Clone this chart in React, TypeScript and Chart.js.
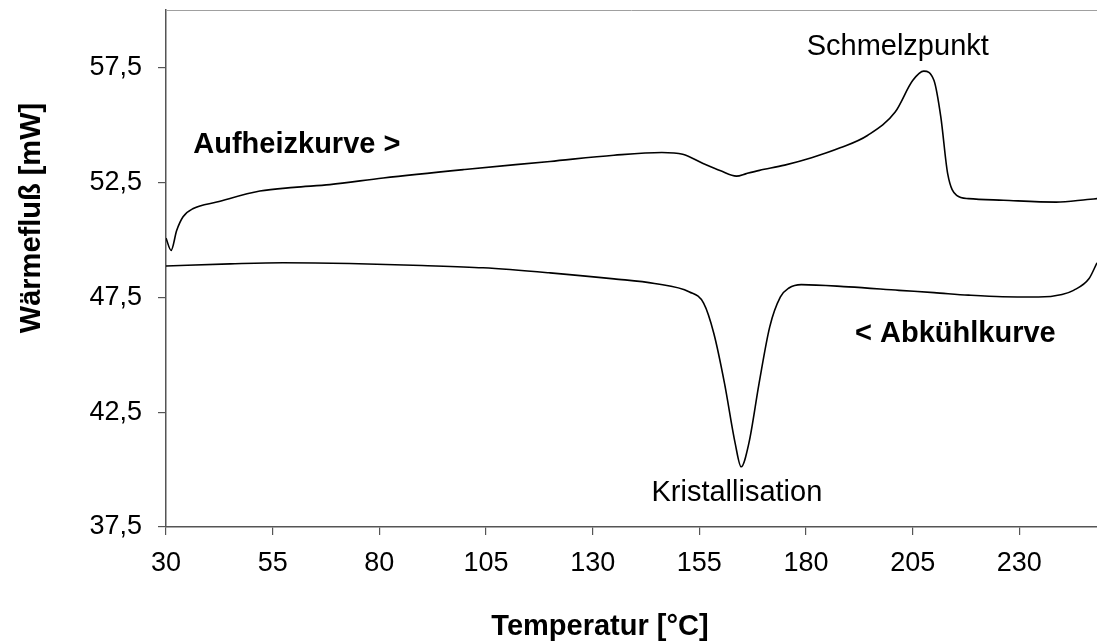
import React, { useEffect, useRef } from "react";
import { Chart, registerables } from "chart.js";

Chart.register(...registerables);

// Heating curve (Aufheizkurve): temperature [°C] and heat flow [mW]
const heatTemp = [30, 31.2, 32.5, 34.0, 36.4, 41.9, 52.0, 60, 68.4, 80.9, 100, 120, 135, 146.2, 151.1, 156, 160, 163.7, 166, 169.1, 175, 181.3, 188, 194.4, 200.9, 205, 207.6, 210, 211.6, 213.2, 215.3, 218.1, 226.3, 238.6, 245.9, 248.2];
const heatFlow = [50.07, 49.54, 50.4, 51.0, 51.36, 51.64, 52.12, 52.28, 52.4, 52.69, 53.06, 53.41, 53.68, 53.8, 53.72, 53.31, 53.0, 52.77, 52.88, 53.02, 53.25, 53.57, 54.0, 54.54, 55.56, 56.93, 57.34, 56.93, 55.34, 52.88, 51.93, 51.79, 51.72, 51.64, 51.75, 51.79];

// Cooling curve (Abkühlkurve)
const coolTemp = [30, 45, 57.4, 73, 90, 104.3, 120, 135, 144.5, 152.7, 156, 158.4, 160.9, 163.4, 164.8, 166.6, 169, 171.5, 174, 176, 178.9, 190, 201.8, 210, 218.1, 226, 234.5, 240, 242.7, 246.3, 248.2];
const coolFlow = [48.86, 48.95, 49.0, 48.97, 48.88, 48.78, 48.56, 48.3, 48.1, 47.73, 47.24, 45.92, 43.75, 41.14, 40.12, 41.14, 43.75, 46.21, 47.51, 47.9, 48.05, 47.95, 47.8, 47.7, 47.59, 47.52, 47.51, 47.62, 47.8, 48.3, 49.0];

// Axis ticks
const xTicks = [30, 55, 80, 105, 130, 155, 180, 205, 230];
const yTicks = [37.5, 42.5, 47.5, 52.5, 57.5];

// Text labels
const xTitle = "Temperatur [°C]";
const yTitle = "Wärmefluß [mW]";
const noteTexts = ["Aufheizkurve >", "Schmelzpunkt", "< Abkühlkurve", "Kristallisation"];
const noteTemp = [36.4, 201.5, 215.0, 163.8];
const noteFlow = [53.76, 58.05, 45.54, 38.64];
const noteBold = [true, false, true, false];
const noteAlign: CanvasTextAlign[] = ["left", "center", "center", "center"];

const FONT = '"Liberation Sans", Arial, Helvetica, sans-serif';

const textPlugin = {
  id: "dscTexts",
  afterDraw(chart: any) {
    const { ctx, chartArea, scales } = chart;
    ctx.save();
    // top frame line
    ctx.strokeStyle = "#a0a0a0";
    ctx.lineWidth = 1;
    ctx.beginPath();
    ctx.moveTo(chartArea.left, chartArea.top + 0.5);
    ctx.lineTo(chartArea.right, chartArea.top + 0.5);
    ctx.stroke();

    ctx.fillStyle = "#000";
    ctx.textBaseline = "alphabetic";
    noteTexts.forEach((t, i) => {
      ctx.font = `${noteBold[i] ? "bold " : ""}29px ${FONT}`;
      ctx.textAlign = noteAlign[i];
      ctx.fillText(t, scales.x.getPixelForValue(noteTemp[i]), scales.y.getPixelForValue(noteFlow[i]));
    });

    // axis titles
    ctx.font = `bold 29px ${FONT}`;
    ctx.textAlign = "center";
    ctx.textBaseline = "alphabetic";
    ctx.fillText(xTitle, 600, 635);

    ctx.save();
    ctx.translate(40, 218);
    ctx.rotate(-Math.PI / 2);
    ctx.textBaseline = "alphabetic";
    ctx.fillText(yTitle, 0, 0);
    ctx.restore();

    ctx.restore();
  },
};

export default function App() {
  const ref = useRef<HTMLCanvasElement | null>(null);

  useEffect(() => {
    if (!ref.current) return;
    const heat = heatTemp.map((t, i) => ({ x: t, y: heatFlow[i] }));
    const cool = coolTemp.map((t, i) => ({ x: t, y: coolFlow[i] }));
    const chart = new Chart(ref.current, {
      type: "line",
      data: {
        datasets: [
          {
            label: "Aufheizkurve",
            data: heat,
            borderColor: "#000",
            borderWidth: 1.6,
            pointRadius: 0,
            cubicInterpolationMode: "monotone",
            fill: false,
          },
          {
            label: "Abkühlkurve",
            data: cool,
            borderColor: "#000",
            borderWidth: 1.6,
            pointRadius: 0,
            cubicInterpolationMode: "monotone",
            fill: false,
          },
        ],
      },
      options: {
        responsive: false,
        animation: false,
        devicePixelRatio: 1,
        layout: { padding: { top: 10, right: 0, bottom: 0, left: 0 } },
        plugins: {
          legend: { display: false },
          tooltip: { enabled: false },
          title: { display: false },
        },
        scales: {
          x: {
            type: "linear",
            min: 30,
            max: 248.2,
            afterBuildTicks: (s: any) => {
              s.ticks = xTicks.map((v) => ({ value: v }));
            },
            afterFit: (s: any) => {
              s.height = 117;
              s.paddingLeft = 0;
              s.paddingRight = 0;
            },
            grid: {
              display: true,
              drawOnChartArea: false,
              drawTicks: true,
              tickLength: 8,
              color: "#555",
              lineWidth: 1.2,
            },
            border: { display: true, color: "#555", width: 1.5 },
            ticks: {
              color: "#000",
              padding: 12,
              maxRotation: 0,
              autoSkip: false,
              font: { family: FONT, size: 27 },
              callback: (v: any) => String(v),
            },
          },
          y: {
            type: "linear",
            min: 37.5,
            max: 60,
            afterBuildTicks: (s: any) => {
              s.ticks = yTicks.map((v) => ({ value: v }));
            },
            afterFit: (s: any) => {
              s.width = 166;
              s.paddingTop = 0;
              s.paddingBottom = 0;
            },
            grid: {
              display: true,
              drawOnChartArea: false,
              drawTicks: true,
              tickLength: 8,
              color: "#555",
              lineWidth: 1.2,
            },
            border: { display: true, color: "#555", width: 1.5 },
            ticks: {
              color: "#000",
              padding: 16,
              autoSkip: false,
              font: { family: FONT, size: 27 },
              callback: (v: any) => Number(v).toFixed(1).replace(".", ","),
            },
          },
        },
      },
      plugins: [textPlugin],
    } as any);
    return () => chart.destroy();
  }, []);

  return (
    <div style={{ position: "fixed", left: 0, top: 0, width: 1097, height: 644, background: "#fff" }}>
      <canvas ref={ref} width={1097} height={644} style={{ width: 1097, height: 644, display: "block" }} />
    </div>
  );
}
